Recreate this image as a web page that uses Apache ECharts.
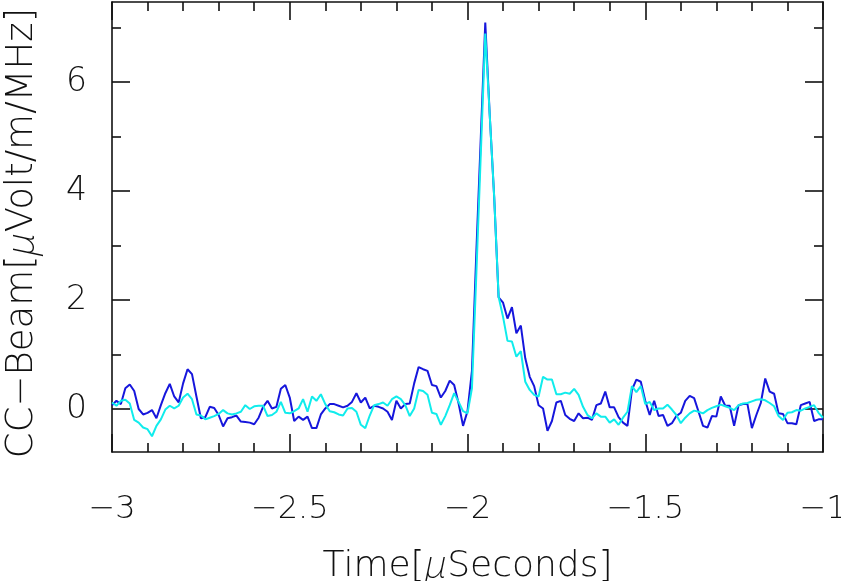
<!DOCTYPE html>
<html>
<head>
<meta charset="utf-8">
<script src="https://cdn.jsdelivr.net/npm/echarts@6/dist/echarts.min.js"></script>
<style>
html,body{margin:0;padding:0;background:#fff;}
#chart{width:841px;height:581px;}
</style>
</head>
<body>
<div id="chart"></div>
<script>
// Sampling grid: start time and step in microseconds
const tStart = -3;
const tStep = 0.0125;

// CC-Beam (blue) values, µV/m/MHz
const ccBeamBlue = [
 0.07, 0.15, 0.09, 0.38, 0.45, 0.33, 0.00, -0.10, -0.07, -0.02,
 -0.17, 0.07, 0.29, 0.46, 0.23, 0.12, 0.47, 0.73, 0.64, 0.23,
 -0.17, -0.15, 0.04, 0.02, -0.11, -0.32, -0.17, -0.15, -0.12, -0.23,
 -0.24, -0.25, -0.28, -0.16, 0.04, 0.15, 0.01, 0.04, 0.37, 0.44,
 0.21, -0.22, -0.14, -0.20, -0.14, -0.35, -0.35, -0.10, 0.01, 0.09,
 0.09, 0.06, 0.03, 0.06, 0.13, 0.29, 0.12, 0.21, 0.01, 0.06,
 0.04, 0.01, -0.05, -0.20, 0.15, 0.01, 0.09, 0.10, 0.47, 0.77,
 0.73, 0.70, 0.44, 0.42, 0.21, 0.33, 0.52, 0.44, 0.10, -0.31,
 -0.04, 0.70, 2.90, 5.00, 7.09, 5.40, 3.90, 2.05, 1.95, 1.66,
 1.87, 1.39, 1.53, 0.93, 0.59, 0.42, 0.07, 0.01, -0.40, -0.22,
 0.12, 0.15, -0.11, -0.18, -0.22, -0.08, -0.17, -0.16, -0.20, 0.07,
 0.10, 0.32, 0.03, 0.03, -0.15, -0.25, -0.31, 0.35, 0.54, 0.50,
 0.15, -0.11, 0.15, -0.13, -0.11, -0.31, -0.26, -0.13, -0.07, 0.15,
 0.24, 0.20, -0.05, -0.31, -0.34, -0.13, -0.14, 0.23, 0.06, 0.06,
 -0.31, 0.07, 0.09, 0.09, -0.35, -0.11, 0.11, 0.56, 0.32, 0.28,
 -0.08, -0.09, -0.26, -0.26, -0.28, 0.07, 0.10, 0.13, -0.22, -0.19,
 -0.19
];

// CC-Beam (cyan) values, µV/m/MHz
const ccBeamCyan = [
 0.12, 0.06, 0.15, 0.17, 0.10, -0.20, -0.25, -0.34, -0.37, -0.50,
 -0.31, -0.19, -0.01, 0.06, 0.01, 0.06, 0.21, 0.28, 0.18, -0.10,
 -0.12, -0.19, -0.16, -0.13, -0.09, -0.02, -0.08, -0.10, -0.08, -0.05,
 0.07, 0.00, 0.05, 0.06, 0.06, -0.13, -0.11, -0.05, 0.13, -0.07,
 -0.08, -0.04, 0.01, 0.18, -0.05, 0.23, 0.15, 0.27, 0.09, -0.04,
 -0.06, -0.10, -0.12, 0.01, 0.02, -0.05, -0.29, -0.35, -0.12, 0.07,
 0.09, 0.12, 0.06, 0.18, 0.23, 0.18, 0.07, -0.13, 0.01, 0.35,
 0.33, 0.26, -0.07, -0.09, -0.29, -0.13, 0.07, 0.29, 0.13, -0.04,
 -0.08, 0.38, 2.50, 4.70, 6.89, 5.40, 3.90, 2.06, 1.69, 1.25,
 1.24, 0.96, 1.06, 0.50, 0.35, 0.26, 0.23, 0.59, 0.54, 0.54,
 0.27, 0.27, 0.30, 0.28, 0.37, 0.26, 0.04, -0.11, -0.17, -0.08,
 -0.14, -0.14, -0.25, -0.19, -0.29, -0.16, -0.05, 0.42, 0.31, 0.42,
 0.09, 0.13, -0.02, 0.01, 0.01, 0.08, -0.01, -0.11, -0.26, -0.16,
 -0.08, -0.03, -0.05, -0.08, -0.02, 0.02, 0.05, 0.08, 0.05, 0.02,
 -0.02, 0.07, 0.10, 0.11, 0.14, 0.17, 0.18, 0.16, 0.11, 0.05,
 -0.13, -0.20, -0.07, -0.06, -0.02, -0.03, 0.01, 0.04, 0.07, -0.07,
 -0.16
];

// Axis tick labels
const xRange = [-3, -1];
const yRange = [-0.789, 7.468];
const yMajorTicks = [0, 2, 4, 6];
const yMinorTicks = [1, 3, 5, 7];

const times = ccBeamBlue.map((_, i) => tStart + i * tStep);
const pairs = (vals) => vals.map((v, i) => [times[i], v]);

const FONT = "'DejaVu Sans', 'Liberation Sans', sans-serif";
const MUFONT = "'Noto Sans', 'DejaVu Sans', sans-serif";
const AX = '#111';
const minus = (v) => (v < 0 ? '\u2212' + String(Math.abs(v)) : String(v));

const chart = echarts.init(document.getElementById('chart'), null, {renderer: 'canvas'});

const baseX = {
  type: 'value', min: xRange[0], max: xRange[1], interval: 0.5,
  axisLine: {show: true, onZero: false, lineStyle: {color: AX, width: 1.6}},
  axisTick: {show: true, inside: true, length: 18, lineStyle: {color: AX, width: 1.6}},
  minorTick: {show: true, splitNumber: 5, length: 9, lineStyle: {color: AX, width: 1.6}},
  splitLine: {show: false}, minorSplitLine: {show: false}
};
const baseY = {
  type: 'value', min: yRange[0], max: yRange[1],
  axisLine: {show: false, onZero: false},
  splitLine: {show: false}
};

chart.setOption({
  animation: false,
  backgroundColor: '#fff',
  grid: {left: 112, right: 18, top: 2, bottom: 129, containLabel: false, outerBoundsMode: 'none'},
  xAxis: [
    Object.assign({}, baseX, {
      position: 'bottom',
      axisLabel: {show: true, margin: 42, color: '#111', fontFamily: FONT, fontSize: 32, fontWeight: 200, formatter: minus},
      name: 'Time[{mu|\u03bc}Seconds]',
      nameLocation: 'middle', nameGap: 96,
      nameTextStyle: {color: '#111', fontFamily: FONT, fontSize: 36, fontWeight: 200,
        rich: {mu: {fontFamily: MUFONT, fontSize: 38, fontStyle: 'italic', fontWeight: 200, color: '#111'}}}
    }),
    Object.assign({}, baseX, {position: 'top', axisLabel: {show: false}})
  ],
  yAxis: [
    Object.assign({}, baseY, {
      position: 'left',
      axisLine: {show: true, onZero: false, lineStyle: {color: AX, width: 1.6}},
      axisTick: {show: true, inside: true, length: 18, customValues: yMajorTicks, lineStyle: {color: AX, width: 1.6}},
      axisLabel: {show: true, customValues: yMajorTicks, margin: 25, color: '#111', fontFamily: FONT, fontSize: 33, fontWeight: 200},
      name: 'CC\u2212Beam[{mu|\u03bc}Volt/m/MHz]',
      nameLocation: 'middle', nameGap: 70, nameRotate: 90,
      nameTextStyle: {color: '#111', fontFamily: FONT, fontSize: 37, fontWeight: 200, padding: [0, 12, 0, 0],
        rich: {mu: {fontFamily: MUFONT, fontSize: 39, fontStyle: 'italic', fontWeight: 200, color: '#111'}}}
    }),
    Object.assign({}, baseY, {
      position: 'left',
      axisTick: {show: true, inside: true, length: 9, customValues: yMinorTicks, lineStyle: {color: AX, width: 1.6}},
      axisLabel: {show: false}
    }),
    Object.assign({}, baseY, {
      position: 'right',
      axisLine: {show: true, onZero: false, lineStyle: {color: AX, width: 1.6}},
      axisTick: {show: true, inside: true, length: 18, customValues: yMajorTicks, lineStyle: {color: AX, width: 1.6}},
      axisLabel: {show: false}
    }),
    Object.assign({}, baseY, {
      position: 'right',
      axisTick: {show: true, inside: true, length: 9, customValues: yMinorTicks, lineStyle: {color: AX, width: 1.6}},
      axisLabel: {show: false}
    })
  ],
  series: [
    {
      type: 'line', xAxisIndex: 0, yAxisIndex: 0,
      data: pairs(ccBeamBlue), showSymbol: false, symbol: 'none',
      lineStyle: {color: '#1616dc', width: 2}, z: 2
    },
    {
      type: 'line', xAxisIndex: 0, yAxisIndex: 0,
      data: pairs(ccBeamCyan), showSymbol: false, symbol: 'none',
      lineStyle: {color: '#10ecec', width: 2}, z: 3
    }
  ]
});
</script>
</body>
</html>
